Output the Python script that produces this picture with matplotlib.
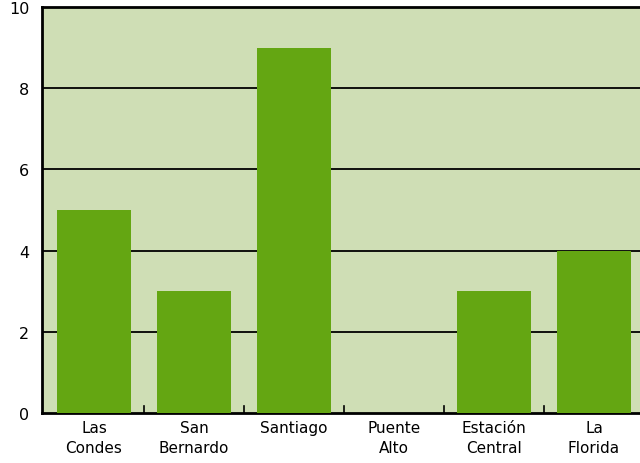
import matplotlib
matplotlib.use("Agg")
import matplotlib.pyplot as plt

categories = ["Las\nCondes", "San\nBernardo", "Santiago", "Puente\nAlto", "Estación\nCentral", "La\nFlorida"]
values = [5, 3, 9, 0, 3, 4]
yticks = [0, 2, 4, 6, 8, 10]

bg = "#cfdeb5"
bar_color = "#64a612"

fig = plt.figure(figsize=(6.4, 4.64), dpi=100)
ax = fig.add_axes([42/640, 50/464, 1 - 42/640, (414-8)/464])
ax.set_facecolor(bg)

x = list(range(len(categories)))
ax.bar(x, values, width=0.74, color=bar_color, zorder=3)

for y in yticks[1:-1]:
    ax.axhline(y, color="black", linewidth=1.3, zorder=2)

ax.set_ylim(0, 10)
ax.set_xlim(-0.52, 5.46)
ax.set_yticks(yticks)
ax.set_yticklabels([str(v) for v in yticks], fontsize=11.5)
ax.tick_params(axis="y", length=0, pad=9)

ax.set_xticks(x)
ax.set_xticklabels(categories, fontsize=11, linespacing=1.45)
ax.tick_params(axis="x", length=0, pad=5)
for b in [0.5, 1.5, 2.5, 3.5, 4.5]:
    ax.plot([b, b], [0, 0.18], color="black", linewidth=1.2, zorder=4, clip_on=False)

for s in ["left", "bottom", "top"]:
    ax.spines[s].set_color("black")
    ax.spines[s].set_linewidth(2)
ax.spines["right"].set_visible(False)

fig.savefig("out.png", dpi=100)
